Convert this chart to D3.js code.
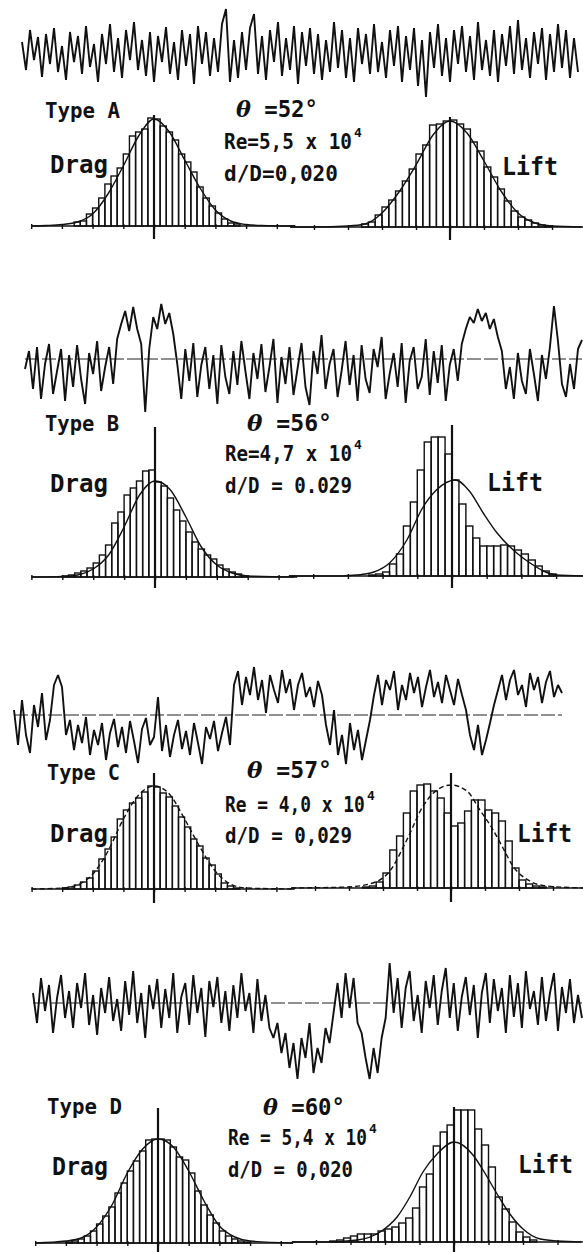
<!DOCTYPE html>
<html lang="en">
<head>
<meta charset="utf-8">
<script src="https://cdn.jsdelivr.net/npm/d3@7"></script>
<style>
  body { margin: 0; background: #fff; }
  svg { display: block; }
  .lbl { font-family: "DejaVu Sans Mono", monospace; font-weight: bold; fill: #111; }
</style>
</head>
<body>
<script>
// ---- values ----
const types   = ["Type A", "Type B", "Type C", "Type D"];
const thetas  = ["52°", "56°", "57°", "60°"];
const reText  = ["Re=5,5 x 10", "Re=4,7 x 10", "Re = 4,0 x 10", "Re = 5,4 x 10"];
const reExp   = ["4", "4", "4", "4"];
const dDText  = ["d/D=0,020", "d/D = 0.029", "d/D = 0,029", "d/D = 0,020"];
const tickSteps = [-4, -3, -2, -1, 0, 1, 2, 3, 4];

// time traces (offset from reference level, px-like units, up = positive)
const traceA = [10,-18,22,-8,15,-25,18,-12,24,-20,6,-28,20,-10,16,-22,26,-15,8,-30,
  18,-12,28,-20,14,-26,22,-8,30,-18,12,-24,20,-30,16,-10,25,-22,10,-28,
  22,-14,18,-32,26,-12,20,-24,14,-20,28,43,-30,12,-26,20,-18,24,38,-22,
  16,-28,22,-10,30,-24,14,-18,26,-32,20,-14,24,-22,18,-28,12,-20,30,-16,
  22,-26,14,-30,24,-12,18,-22,28,-20,10,-26,22,-14,26,-30,16,-18,24,-34,
  12,-45,20,-16,28,-24,14,-30,22,-12,26,-20,16,-28,30,-18,12,-24,22,-30,
  18,-14,26,-22,32,-18,14,-26,20,-12,24,-28,18,-20,28,-16,22,-26,14,-20];
const traceB = [-10,8,-30,12,-40,-5,15,-35,-12,10,-42,4,-28,14,-20,-45,6,-15,18,-32,-8,12,-25,
  20,35,48,28,52,30,15,-53,
  10,42,30,55,35,46,25,
  -5,-40,10,-22,16,-38,-6,12,-30,4,-45,14,-18,-35,8,-26,18,-12,-40,6,
  -20,15,-33,-8,20,-44,2,-25,12,-36,-10,16,-28,-46,8,-15,24,-30,-5,10,
  -38,-12,18,-26,4,-42,14,-20,-34,10,-8,22,-40,-15,6,-28,16,-44,-2,12,
  -30,-18,20,-36,8,-24,14,-42,-6,10,-22,
  15,30,42,36,50,38,46,30,40,22,8,
  -30,-8,-40,6,-22,-35,10,-15,-42,4,-20,12,53,18,-25,-38,-5,-30,10,19];
const traceC = [5,-30,15,-20,-38,10,-12,22,-25,-5,
  30,40,28,
  -20,-5,-35,-10,-28,-2,-40,-15,-30,-8,-45,-18,-4,-32,-12,-38,-6,-26,-48,-14,-3,-30,-22,18,
  -36,-10,-42,-20,-5,-34,-16,-40,-8,-28,-49,-12,-24,-6,-36,-18,-2,-30,
  30,44,10,38,20,48,15,35,2,40,25,12,45,22,36,5,30,42,18,28,8,34,20,
  -10,-30,5,-40,-20,-49,-8,-35,-15,-45,-25,-5,
  20,40,10,35,25,44,5,30,15,42,22,38,8,28,45,18,33,12,40,25,10,36,20,
  5,-20,-35,-10,-40,-25,-8,10,
  25,40,15,35,45,20,30,8,42,25,38,12,33,44,18,30,22];
const traceD = [10,-20,25,-8,18,-30,5,28,-15,12,-25,20,-5,30,-22,8,-32,15,-10,26,-18,4,-28,22,-12,
  32,-20,10,-35,18,-6,24,-25,14,-15,30,-30,6,20,-22,28,-10,15,-34,22,-4,26,-20,12,-28,
  18,-15,30,-8,10,-30,24,-18,8,-25,-35,
  -20,-50,-30,-65,-40,-76,-35,-55,-20,-70,-45,-60,-25,-40,-10,
  20,-15,30,-5,25,-20,
  -30,-55,-76,-45,-70,-35,-15,
  40,-10,25,-25,15,32,-18,8,-30,22,-5,28,-22,12,35,-15,20,-28,6,26,-12,18,-35,10,30,
  -20,24,-8,15,-30,28,-14,20,-25,32,-6,12,-22,26,-18,10,30,-28,16,-10,24,-20,8,-15];

// histograms: first bin left edge (in tick units), bin width 0.2 tick, heights
const dragAStart = -2.6;
const dragA = [4,5,12,18,28,42,50,58,72,90,94,97,108,107,100,94,86,72,64,54,39,28,20,13,7,3,2];
const liftAStart = -2.6;
const liftA = [3,5,12,20,27,36,46,58,73,82,102,103,106,107,103,98,85,76,60,50,38,26,16,10,7,4,2,1];
const dragBStart = -3.0;
const dragB = [1,2,4,6,9,14,22,32,54,65,82,89,96,106,107,95,91,79,67,56,45,35,28,22,18,12,8,5,3,1];
const liftBStart = -2.6;
const liftB = [0,1,2,4,12,22,50,74,106,134,139,139,122,96,72,50,38,30,30,30,31,30,26,22,16,10,5,2];
const dragCStart = -3.0;
const dragC = [1,2,4,7,11,18,30,40,52,70,79,86,91,97,103,102,96,92,83,72,62,50,43,31,24,15,6,3,1];
const liftCStart = -2.6;
const liftC = [1,2,6,15,38,52,75,97,103,104,97,90,75,62,65,77,88,88,78,75,67,47,20,8,4,2,1];
const dragDStart = -3.0;
const dragD = [1,2,4,7,12,19,27,36,50,60,72,82,92,103,104,104,103,96,86,83,70,52,38,28,20,12,7,4,2,1];
const liftDStart = -3.6;
const liftD = [1,2,4,6,8,8,8,11,13,15,19,24,34,55,68,96,110,117,132,132,132,113,97,75,45,33,20,10,5,2];

// fitted normal curves: [tick position, height]
const curveDragA = [[-4,0],[-3.5,0.5],[-3,1.5],[-2.5,4],[-2,12],[-1.5,32],[-1,60],[-0.5,90],[0,107],[0.5,94],[1,66],[1.5,38],[2,16],[2.5,5],[3,1.5],[3.5,0.5],[4.6,0]];
const curveLiftA = [[-4.7,0],[-4,0],[-3,1],[-2.5,3],[-2,14],[-1.5,35],[-1,62],[-0.5,92],[0,106],[0.5,94],[1,66],[1.5,36],[2,14],[2.5,4],[3,1],[3.9,0]];
const curveDragB = [[-4,0],[-3,0.5],[-2.5,2],[-2,8],[-1.5,22],[-1,50],[-0.5,82],[0,96],[0.5,87],[1,60],[1.5,30],[2,12],[2.5,4],[3,1],[4.6,0]];
const curveLiftB = [[-4.7,0],[-3.2,0],[-3,0.5],[-2.5,2],[-2.25,4],[-1.8,13],[-1.3,36],[-0.85,68],[-0.45,86],[0.1,96],[0.5,85],[0.9,63],[1.3,43],[1.9,22],[2.25,13],[2.7,4],[3,1],[3.9,0]];
const curveDragC = [[-4,0],[-3,1],[-2.5,4],[-2,15],[-1.5,38],[-1,70],[-0.5,94],[0,103],[0.5,95],[1,70],[1.5,42],[2,18],[2.5,5],[3,1],[4.6,0]];
const curveLiftC = [[-4.7,0],[-3.06,1],[-2.3,5],[-1.8,17],[-1.3,48],[-0.82,82],[-0.41,98],[0,103],[0.47,97],[0.85,78],[1.24,58],[1.53,40],[1.82,22],[2.32,7],[2.82,2],[3.9,0]];
const curveDragD = [[-4,0],[-3,2],[-2.5,5],[-2,16],[-1.5,38],[-1,70],[-0.5,94],[0,104],[0.5,96],[1,72],[1.5,42],[2,17],[2.5,6],[3,2],[4.4,0]];
const curveLiftD = [[-4.7,0],[-3.7,0],[-2.8,2],[-2.14,10],[-1.65,25],[-1.28,45],[-0.9,70],[-0.49,88],[0,100],[0.55,87],[0.84,72],[1.25,48],[1.62,28],[2.0,13],[2.5,3],[3.0,1],[3.9,0]];

// ---- layout (page positions) ----
const panels = [
  { trace: traceA, tx: [22, 578], ty: 52, ref: false,
    drag: { bins: dragA, start: dragAStart, curve: curveDragA, dash: false, cx: 154, tk: 30.7, base: 226, top: 115, bot: 239, dom: [-4, 4.6] },
    lift: { bins: liftA, start: liftAStart, curve: curveLiftA, dash: false, cx: 450, tk: 34, base: 227, top: 117, bot: 240, dom: [-4.7, 3.9] },
    t: { type: [45,118,75], th: [236,117,82], re: [224,149,128], dd: [224,181,114], drag: [50,173,58], lift: [502,175,56] } },
  { trace: traceB, tx: [25, 582], ty: 359, ref: true,
    drag: { bins: dragB, start: dragBStart, curve: curveDragB, dash: false, cx: 155, tk: 30.9, base: 577, top: 427, bot: 588, dom: [-4, 4.5] },
    lift: { bins: liftB, start: liftBStart, curve: curveLiftB, dash: false, cx: 452, tk: 34.7, base: 576, top: 425, bot: 588, dom: [-4.7, 3.8] },
    t: { type: [45,431,74], th: [247,431,85], re: [225,461,127], dd: [225,493,127], drag: [50,492,58], lift: [487,491,56] } },
  { trace: traceC, tx: [14, 562], ty: 715, ref: true,
    drag: { bins: dragC, start: dragCStart, curve: curveDragC, dash: true, cx: 154, tk: 30.6, base: 889, top: 773, bot: 903, dom: [-4, 4.6] },
    lift: { bins: liftC, start: liftCStart, curve: curveLiftC, dash: true, cx: 451, tk: 34, base: 888, top: 773, bot: 902, dom: [-4.7, 3.9] },
    t: { type: [47,780,73], th: [247,778,85], re: [225,812,140], dd: [225,843,127], drag: [50,842,58], lift: [517,842,55] } },
  { trace: traceD, tx: [33, 582], ty: 1003, ref: true,
    drag: { bins: dragD, start: dragDStart, curve: curveDragD, dash: false, cx: 158, tk: 30.7, base: 1243, top: 1108, bot: 1252, dom: [-4, 4.4] },
    lift: { bins: liftD, start: liftDStart, curve: curveLiftD, dash: false, cx: 454, tk: 34.5, base: 1242, top: 1107, bot: 1252, dom: [-4.7, 3.7] },
    t: { type: [47,1114,75], th: [263,1115,82], re: [228,1145,139], dd: [228,1177,125], drag: [52,1175,56], lift: [518,1173,55] } }
];

const W = 583, H = 1252;
const svg = d3.select("body").append("svg")
  .attr("width", W).attr("height", H)
  .style("background", "#fff");

function drawTrace(p) {
  const x = d3.scaleLinear().domain([0, p.trace.length - 1]).range(p.tx);
  const y = d3.scaleLinear().domain([-60, 60]).range([p.ty + 60, p.ty - 60]);
  if (p.ref) {
    svg.append("line")
      .attr("x1", p.tx[0]).attr("x2", p.tx[1])
      .attr("y1", y(0)).attr("y2", y(0))
      .attr("stroke", "#222").attr("stroke-width", 1.1)
      .attr("stroke-dasharray", "14,3");
  }
  svg.append("path")
    .datum(p.trace)
    .attr("d", d3.line().x((d, i) => x(i)).y(d => y(d)))
    .attr("fill", "none")
    .attr("stroke", "#111")
    .attr("stroke-width", 1.9)
    .attr("stroke-linejoin", "bevel");
}

function drawHist(h) {
  const x = d3.scaleLinear().domain([-1, 1]).range([h.cx - h.tk, h.cx + h.tk]);
  const y = d3.scaleLinear().domain([0, 100]).range([h.base, h.base - 100]);
  const g = svg.append("g");

  g.selectAll("rect.bar")
    .data(h.bins)
    .enter()
    .append("rect")
    .attr("class", "bar")
    .attr("x", (d, i) => x(h.start + i * 0.2))
    .attr("width", x(0.2) - x(0))
    .attr("y", d => y(d))
    .attr("height", d => h.base - y(d))
    .attr("fill", "none")
    .attr("stroke", "#111")
    .attr("stroke-width", 1.4);

  // axis with small ticks crossing the line
  const ax = d3.axisBottom(x).tickValues(tickSteps).tickSize(5).tickSizeOuter(0).tickFormat("");
  const axg = g.append("g")
    .attr("transform", "translate(0," + (h.base - 2) + ")")
    .call(ax);
  axg.select(".domain").remove();
  axg.selectAll("line").attr("stroke", "#111").attr("stroke-width", 1.4);
  g.append("line")
    .attr("x1", x(h.dom[0])).attr("x2", x(h.dom[1]))
    .attr("y1", h.base).attr("y2", h.base)
    .attr("stroke", "#111").attr("stroke-width", 1.7);

  // fitted curve
  g.append("path")
    .datum(h.curve)
    .attr("d", d3.line().x(d => x(d[0])).y(d => y(d[1])).curve(d3.curveMonotoneX))
    .attr("fill", "none")
    .attr("stroke", "#111")
    .attr("stroke-width", 1.4)
    .attr("stroke-dasharray", h.dash ? "5,3" : null);

  // zero line
  g.append("line")
    .attr("x1", x(0)).attr("x2", x(0))
    .attr("y1", h.top).attr("y2", h.bot)
    .attr("stroke", "#111").attr("stroke-width", 2.2);
}

// squeeze a label horizontally so it spans the measured width
function fit(t, pos) {
  const n = t.node().getComputedTextLength();
  t.attr("transform", "translate(" + pos[0] + "," + pos[1] + ") scale(" + (pos[2] / n) + ",1)");
  return t;
}

function label(pos, txt, size) {
  const t = svg.append("text")
    .attr("class", "lbl")
    .attr("font-size", size)
    .text(txt);
  return fit(t, pos);
}

panels.forEach((p, i) => {
  drawTrace(p);
  drawHist(p.drag);
  drawHist(p.lift);

  label(p.t.type, types[i], 22);

  const th = svg.append("text")
    .attr("class", "lbl")
    .attr("font-size", 23);
  th.append("tspan").attr("font-style", "italic").attr("font-family", "DejaVu Serif").text("θ");
  th.append("tspan").text(" =" + thetas[i]);
  fit(th, p.t.th);

  label(p.t.re, reText[i], 22);
  svg.append("text")
    .attr("class", "lbl")
    .attr("x", p.t.re[0] + p.t.re[2] + 2)
    .attr("y", p.t.re[1] - 12)
    .attr("font-size", 13)
    .text(reExp[i]);

  label(p.t.dd, dDText[i], 22);
  label(p.t.drag, "Drag", 24);
  label(p.t.lift, "Lift", 24);
});
</script>
</body>
</html>
